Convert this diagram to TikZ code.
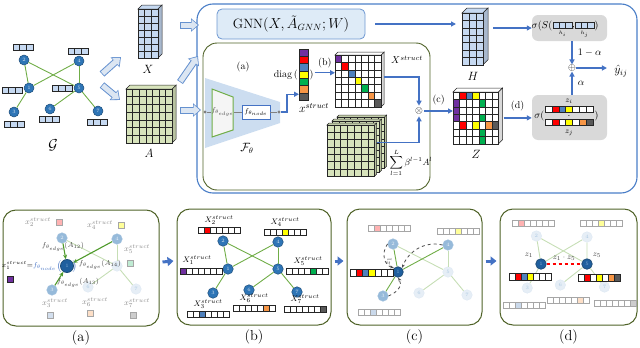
\documentclass[tikz,border=0pt]{standalone}
\usepackage{amsmath,amssymb}
\usetikzlibrary{arrows.meta, positioning, calc}
\definecolor{FrameBlue}{HTML}{4A7EC7}
\definecolor{ArrowBlue}{HTML}{4472C4}
\definecolor{BlockFill}{HTML}{DCE6F2}
\definecolor{BoxGreen}{HTML}{4F6228}
\definecolor{GnnFill}{HTML}{DEEBF7}
\definecolor{FuncBlue}{HTML}{CCDDF0}
\definecolor{PanelGray}{HTML}{D9D9D9}
\definecolor{NodeBlue}{HTML}{2E75B6}
\definecolor{NodeLine}{HTML}{1F4E79}
\definecolor{NodeDark}{HTML}{1F5F9E}
\definecolor{EdgeGreen}{HTML}{70AD47}
\definecolor{EdgeDark}{HTML}{4E9A2A}
\definecolor{MatBlue}{HTML}{C6D9F1}
\definecolor{MatGreen}{HTML}{D8E4BC}
\definecolor{CellPurple}{HTML}{7030A0}
\definecolor{CellRed}{HTML}{FF0000}
\definecolor{CellBlue}{HTML}{4F81BD}
\definecolor{CellYellow}{HTML}{FFFF00}
\definecolor{CellGreen}{HTML}{00B050}
\definecolor{CellOrange}{HTML}{F79646}
\definecolor{CellGray}{HTML}{595959}
\definecolor{LabelGray}{HTML}{8C8C8C}
\tikzset{
    % Box styles
    framebox/.style={rectangle, draw=FrameBlue, line width=1.1pt, rounded corners=16pt},
    greenbox/.style={rectangle, draw=BoxGreen, line width=0.9pt, rounded corners=14pt},
    panelbox/.style={rectangle, draw=BoxGreen, line width=1pt, rounded corners=13pt, minimum height=116pt},
    gnnbox/.style={rectangle, draw=FrameBlue!80, fill=GnnFill, line width=0.8pt, rounded corners=5pt,
        minimum width=148pt, minimum height=30pt, font=\fontsize{13.5}{15}\selectfont},
    graybox/.style={rectangle, fill=PanelGray, rounded corners=6pt, minimum width=75pt},
    nodebox/.style={rectangle, draw=ArrowBlue, line width=0.9pt, fill=white, minimum width=28pt,
        minimum height=14pt, inner sep=1pt, font=\scriptsize},
    % Graph styles
    gnode/.style={circle, draw=NodeLine, fill=NodeBlue, line width=0.5pt, minimum size=10.5pt,
        inner sep=0pt, font=\fontsize{5}{5}\selectfont, text=white!80!NodeBlue},
    darknode/.style={fill=NodeDark, draw=NodeLine, line width=0.8pt, text=NodeBlue!60},
    midnode/.style={fill=NodeBlue!50, draw=NodeBlue!45, text=white!90!NodeBlue},
    faintnode/.style={fill=NodeBlue!12, draw=NodeBlue!15, text=NodeBlue!40},
    gedge/.style={draw=EdgeGreen, line width=0.9pt},
    faintedge/.style={draw=EdgeGreen!40},
    strongedge/.style={draw=EdgeDark, line width=1.1pt, -{Stealth[length=4.5pt,width=4pt]}},
    n1/.style={}, n2/.style={}, n3/.style={}, n4/.style={}, n5/.style={}, n6/.style={}, n7/.style={},
    e21/.style={}, e25/.style={}, e41/.style={}, e45/.style={}, e31/.style={}, e56/.style={}, e57/.style={},
    % Cell styles
    cellline/.style={draw=black!85, line width=0.5pt},
    cubeline/.style={draw=black!85, line width=0.5pt},
    faintcell/.style={draw=black!35},
    % Arrow styles
    bluearrow/.style={draw=ArrowBlue, line width=1.3pt, -{Triangle[length=5pt,width=5pt]}},
    blockarrow/.style={line width=7pt, draw=FrameBlue!85, -{Triangle[length=8pt,width=13pt]},
        postaction={draw=BlockFill, line width=5pt, -{Triangle[length=6pt,width=10pt]},
        shorten >=1.3pt, shorten <=0.8pt}},
    panelarrow/.style={draw=ArrowBlue, line width=3pt, -{Triangle[length=6pt,width=9pt]}},
    dasharrow/.style={draw=black!70, dashed, line width=0.8pt, -{Stealth[length=4pt]}},
    % Text styles
    lbl/.style={inner sep=1pt, font=\footnotesize},
    glbl/.style={inner sep=1pt, font=\footnotesize, text=LabelGray},
    edgelbl/.style={inner sep=1pt, font=\scriptsize, text=black!75},
    matlbl/.style={font=\large},
    paneltitle/.style={font=\Large, inner sep=1pt}
}
% graph with nodes 1..7, prefix #1
\newcommand{\drawgraph}[1]{%
    \foreach \n/\x/\y in {1/0/0, 2/-5/-28, 4/50/-27, 5/50/0, 3/-15/24, 6/21/21, 7/69/23}
        \node[gnode, n\n] (#1\n) at (\x,\y) {\n};
    \foreach \a/\b in {2/1, 2/5, 4/1, 4/5, 3/1, 5/6, 5/7}
        \draw[gedge, e\a\b] (#1\a) -- (#1\b);
}
% one cell of a matrix: #1 matrix, #2 col, #3 row, #4 width, #5 height, #6 fill
\newcommand{\cellat}[6]{%
    \filldraw[cellline, fill=#6] ($(#1.north west)+({(#2-1)*#4},{(#3-1)*#5})$) rectangle ++(#4,#5);%
}
% row of cells: [style] name, top left, width, height, fills
\newcommand{\cellrow}[6][]{%
    \coordinate (#2) at #3;
    \foreach \cl [count=\i from 0] in {#6}
        \draw[cellline, #1, fill=\cl] ($(#2)+(\i*#4,0)$) rectangle ++(#4,#5);
}
% matrix block: name, top left, cols, rows, cell width, cell height, depth, fill
\newcommand{\cuboid}[8]{%
    \node[inner sep=0pt, outer sep=0pt, minimum width={#3*#5}, minimum height={#4*#6}, anchor=north west] (#1) at #2 {};
    \filldraw[cubeline, fill=#8] (#1.north west) -- ++(#7,-#7) -- ++({#3*#5},0) -- (#1.north east) -- cycle;
    \filldraw[cubeline, fill=#8!85!black] (#1.north east) -- ++(#7,-#7) -- ++(0,{#4*#6}) -- (#1.south east) -- cycle;
    \foreach \i in {1,...,#3}{\foreach \j in {1,...,#4}{\cellat{#1}{\i}{\j}{#5}{#6}{#8}}}%
}

\begin{document}
\begin{tikzpicture}[x=1pt, y=-1pt]
\useasboundingbox (0,0) rectangle (640,348);

% frames
\node[framebox, minimum width=440pt, minimum height=189pt] (frame) at (417,98.5) {};
\node[greenbox, minimum width=227pt, minimum height=147pt] (fbox) at (316.5,116.5) {};

% input graph
\begin{scope}[shift={(29,88)}, gnode/.append style={minimum size=10pt}]
    \drawgraph{g}
\end{scope}
\cellrow{gf2}{(13,44)}{6.7}{6}{MatBlue,MatBlue,MatBlue}
\cellrow{gf4}{(68,48)}{6.7}{6}{MatBlue,MatBlue,MatBlue}
\cellrow{gf1}{(2,87)}{6.7}{6}{MatBlue,MatBlue,MatBlue}
\cellrow{gf5}{(52,85)}{6.7}{6}{MatBlue,MatBlue,MatBlue}
\cellrow{gf3}{(4,121)}{6.7}{6}{MatBlue,MatBlue,MatBlue}
\cellrow{gf6}{(39,116)}{6.7}{6}{MatBlue,MatBlue,MatBlue}
\cellrow{gf7}{(87,119)}{6.7}{6}{MatBlue,MatBlue,MatBlue}
\node[font=\Large] (glabel) at (53,145) {$\mathcal{G}$};

% X and A
\cuboid{xm}{(138,9)}{3}{7}{6.7}{7}{4}{MatBlue}
\node[matlbl] (xlabel) at (148,69) {$X$};
\cuboid{am}{(126,89)}{7}{7}{6.6}{7.7}{4}{MatGreen}
\node[matlbl] (alabel) at (149,153) {$A$};

% block arrows
\coordinate (bx0) at (102,74);  \coordinate (bx1) at (121,57);
\coordinate (ba0) at (102,85);  \coordinate (ba1) at (120,100);
\coordinate (xf0) at (180,25);  \coordinate (xf1) at (199,25);
\coordinate (af0) at (180,82);  \coordinate (af1) at (198,56);
\coordinate (fn0) at (180,110); \coordinate (fn1) at (201,110);
\draw[blockarrow] (bx0) -- (bx1);
\draw[blockarrow] (ba0) -- (ba1);
\draw[blockarrow] (xf0) -- (xf1);
\draw[blockarrow] (af0) -- (af1);
\draw[blockarrow] (fn0) -- (fn1);

% GNN branch
\node[gnnbox] (gnn) at (291,24) {GNN$(X,\tilde{A}_{GNN};W)$};
\cuboid{hm}{(462,13)}{3}{7}{7}{7.4}{5}{MatBlue}
\node[matlbl] (hlabel) at (473,76) {$H$};
\draw[bluearrow] ([xshift=10pt]gnn.east) -- ([xshift=-6pt]gnn.east -| hm.west);

% structure function
\node (pa-title) at (243,67) {(a)};
\fill[FuncBlue] (205,78) -- (280,102) -- (280,123) -- (205,148) -- cycle;
\draw[draw=EdgeGreen, line width=1pt, fill=gray!8] (212,89) -- (233,97) -- (233,130) -- (212,137) -- cycle;
\node[minimum width=21pt, inner sep=0pt, font=\scriptsize, text=black!70] (fedge) at (222.5,112) {$f_{\theta_{edge}}$};
\node[nodebox] (fnode) at (256,112) {$f_{\theta_{node}}$};
\node[circle, fill=gray, inner sep=0pt, minimum size=3.2pt] (dotl) at (205,112) {};
\node[circle, fill=gray, inner sep=0pt, minimum size=3.2pt] (dotr) at (279,112) {};
\draw[gray, line width=0.7pt] (dotl) -- (fedge.west);
\draw[gray, line width=0.7pt] (fedge.east) -- (fnode.west);
\draw[gray, line width=0.7pt] (fnode.east) -- (dotr);
\node[font=\large] (flabel) at (247,148) {$\mathcal{F}_\theta$};

% x struct column
\node[inner sep=0pt, minimum width=9pt, minimum height=51.1pt, anchor=north west] (xs) at (299,49) {};
\foreach \cl [count=\k] in {CellPurple,CellRed,CellBlue,CellYellow,CellGreen,CellOrange,CellGray}
    \cellat{xs}{1}{\k}{9}{7.3}{\cl};
\node[anchor=east, inner sep=1pt] (diag) at (xs.west) {diag\,(};
\node[anchor=west, inner sep=1pt] (rpar) at (xs.east) {)};
\node[font=\large] (xslabel) at (314,108) {$x^{struct}$};
\draw[bluearrow] (dotr) -- ++(8,0) |- ([yshift=-19.5pt]xs.west);

% X struct matrix
\cuboid{xsm}{(335,55)}{7}{7}{6.6}{7.4}{3}{white}
\foreach \k/\cl in {1/CellPurple,2/CellRed,3/CellBlue,4/CellYellow,5/CellGreen,6/CellOrange,7/CellGray}
    \cellat{xsm}{\k}{\k}{6.6}{7.4}{\cl};
\node (xsmlabel) at (407,60) {$X^{struct}$};
\draw[bluearrow] ([yshift=2pt]rpar.east) -- ([yshift=2pt]rpar.east -| xsm.west) node[midway, above=1pt] {(b)};

% powers of A
\cuboid{st3}{(337,117)}{7}{7}{6.8}{7.3}{2}{MatGreen}
\cuboid{st2}{(332,121)}{7}{7}{6.8}{7.3}{2}{MatGreen}
\cuboid{st1}{(327,125)}{7}{7}{6.8}{7.3}{2}{MatGreen}
\node (sumlabel) at (411,163) {\small$\displaystyle\sum_{l=1}^{L}\beta^{l-1}A^{l}$};

% combine
\node[circle, inner sep=0pt] (mult) at (419,111) {$\otimes$};
\draw[bluearrow] ([xshift=3pt, yshift=4pt]xsm.east) -| (mult);
\draw[bluearrow] ([xshift=2pt, yshift=8pt]st1.east) -| (mult);

% Z matrix
\cuboid{zm}{(453,92)}{7}{7}{6.5}{7.4}{4}{white}
\foreach \c/\r/\cl in {2/1/CellRed, 3/1/CellBlue, 4/1/CellYellow, 1/2/CellPurple, 5/2/CellGreen,
    1/3/CellPurple, 1/4/CellPurple, 5/4/CellGreen, 2/5/CellRed, 4/5/CellYellow, 6/5/CellOrange,
    7/5/CellGray, 5/6/CellGreen, 5/7/CellGreen}
    \cellat{zm}{\c}{\r}{6.5}{7.4}{\cl};
\node[matlbl] (zlabel) at (476,154) {$Z$};
\draw[bluearrow] (mult) -- (mult -| zm.west) node[midway, above=2pt] {(c)};

% scoring boxes
\node[graybox, minimum height=26pt] (sbox) at (569.5,28) {};
\draw[bluearrow] ([xshift=10pt]hm.east |- sbox.west) -- (sbox.west);
\cellrow{hi}{(553,22)}{6.3}{6}{MatBlue,MatBlue,MatBlue}
\cellrow{hj}{(575,22)}{6.3}{6}{MatBlue,MatBlue,MatBlue}
\node[anchor=east, inner sep=0.5pt] (sig1) at (553,25.5) {$\sigma(S($};
\node[inner sep=0pt] (comma) at (573.5,28) {,};
\node[anchor=west, inner sep=0.5pt] (sig1r) at (594,25.5) {$)$};
\node[font=\tiny, inner sep=0pt] (hilabel) at (562.5,34) {$h_i$};
\node[font=\tiny, inner sep=0pt] (hjlabel) at (584.5,34) {$h_j$};

\node[graybox, minimum height=45pt] (zbox) at (569.5,117.5) {};
\draw[bluearrow] ([xshift=5pt]zm.east) -- (zm.east -| zbox.west) node[midway, above=3pt] {(d)};
\node[font=\footnotesize, inner sep=0pt] (zilabel) at (569,101) {$z_i$};
\cellrow{zi}{(545,106)}{6.9}{6.5}{white,CellRed,CellBlue,CellYellow,white,white,white}
\node[inner sep=0pt] (zdot) at (569,116) {$\cdot$};
\cellrow{zj}{(545,119)}{6.9}{6.5}{white,CellRed,white,CellYellow,white,CellOrange,CellGray}
\node[anchor=east, inner sep=0.5pt] (sig2) at (545,116) {$\sigma($};
\node[anchor=west, inner sep=0.5pt] (sig2r) at (594,116) {$)$};
\node[font=\footnotesize, inner sep=0pt] (zjlabel) at (569,133) {$z_j$};

% fusion
\node[inner sep=0pt] (plus) at (572,68) {$\oplus$};
\node[font=\large] (yhat) at (621,71) {$\hat{y}_{ij}$};
\draw[bluearrow] (plus |- sbox.south) -- (plus) node[midway, right=2pt] {$1-\alpha$};
\draw[bluearrow] (plus |- zbox.north) -- (plus) node[midway, right=2pt] {$\alpha$};
\draw[bluearrow] (plus) -- ([xshift=-4pt]plus -| yhat.west);

% ---------------- bottom panels ----------------
\node[panelbox, minimum width=156pt] (pa) at (81,268) {};
\node[panelbox, minimum width=154pt] (pb) at (254,267) {};
\node[panelbox, minimum width=135pt] (pc) at (414.5,267) {};
\node[panelbox, minimum width=137pt] (pd) at (568.5,267) {};
\node[paneltitle, below=3pt of pa] (la) {(a)};
\node[paneltitle, below=3pt of pb] (lb) {(b)};
\node[paneltitle, below=3pt of pc] (lc) {(c)};
\node[paneltitle, below=3pt of pd] (ld) {(d)};
\draw[panelarrow] ([xshift=3pt, yshift=6pt]pa.east) -- ([xshift=-3pt, yshift=6pt]pb.west);
\draw[panelarrow] ([xshift=3pt, yshift=6pt]pb.east) -- ([xshift=-3pt, yshift=6pt]pc.west);
\draw[panelarrow] ([xshift=3pt, yshift=6pt]pc.east) -- ([xshift=-3pt, yshift=6pt]pd.west);

% panel (a)
\begin{scope}[shift={(67,266)}, n1/.style={darknode, minimum size=13pt}, n2/.style={midnode},
    n3/.style={midnode}, n4/.style={midnode}, n5/.style={faintnode}, n6/.style={faintnode},
    n7/.style={faintnode}, e21/.style={strongedge}, e41/.style={strongedge}, e31/.style={strongedge},
    e25/.style={faintedge}, e45/.style={faintedge}, e56/.style={faintedge}, e57/.style={faintedge}]
    \drawgraph{pa}
\end{scope}
\node[glbl] (ax2) at (38,222) {$x_2^{struct}$};
\cellrow[faintcell]{asq2}{(56,219)}{6}{6}{CellRed!30}
\node[glbl] (ax4) at (100,225) {$x_4^{struct}$};
\cellrow[faintcell]{asq4}{(118,222)}{6}{6}{CellYellow!40}
\node[glbl] (ax5) at (137,249) {$x_5^{struct}$};
\cellrow[faintcell]{asq5}{(127,260)}{6}{6}{CellGreen!25}
\node[glbl] (ax3) at (55,303) {$x_3^{struct}$};
\cellrow[faintcell]{asq3}{(47,312)}{6}{6}{CellBlue!25}
\node[glbl] (ax6) at (95,302) {$x_6^{struct}$};
\cellrow[faintcell]{asq6}{(87,310)}{6}{6}{CellOrange!30}
\node[glbl] (ax7) at (137,303) {$x_7^{struct}$};
\cellrow[faintcell]{asq7}{(130,312)}{6}{6}{CellGray!30}
\node[text=ArrowBlue, font=\large, inner sep=0pt] (alp) at (59.5,266) {$($};
\node[text=ArrowBlue, font=\large, inner sep=0pt] (arp) at (74.5,266) {$)$};
\node[anchor=east, inner sep=0.5pt, font=\scriptsize] (ax1) at (alp.west) {$x_1^{struct}{=}\textcolor{ArrowBlue}{f_{\theta_{node}}}$};
\cellrow{asq1}{(7,276)}{6}{6}{CellPurple}
\node[edgelbl] (a12) at (63,247) {$f_{\theta_{edge}}(A_{12})$};
\node[edgelbl] (a14) at (100,265) {$f_{\theta_{edge}}(A_{14})$};
\node[edgelbl] (a13) at (78,283) {$f_{\theta_{edge}}(A_{13})$};

% panel (b)
\begin{scope}[shift={(228,269)}]
    \drawgraph{pb}
\end{scope}
\cellrow{bx2}{(198,227)}{6}{6.5}{white,CellRed,white,white,white,white,white}
\cellrow{bx4}{(264,229)}{6}{6.5}{white,white,white,CellYellow,white,white,white}
\cellrow{bx1}{(180,268)}{6}{6.5}{CellPurple,white,white,white,white,white,white}
\cellrow{bx5}{(286,268)}{6}{6.5}{white,white,white,white,CellGreen,white,white}
\cellrow{bx3}{(187,311)}{6}{6.5}{white,white,CellBlue,white,white,white,white}
\cellrow{bx6}{(233,305)}{6}{6.5}{white,white,white,white,white,CellOrange,white}
\cellrow{bx7}{(284,306)}{6}{6.5}{white,white,white,white,white,white,CellGray}
\node[lbl] (bl2) at (219,220) {$X_2^{struct}$};
\node[lbl] (bl4) at (285,222) {$X_4^{struct}$};
\node[lbl] (bl1) at (197,260) {$X_1^{struct}$};
\node[lbl] (bl5) at (308,261) {$X_5^{struct}$};
\node[lbl] (bl3) at (208,304) {$X_3^{struct}$};
\node[lbl] (bl6) at (254,298) {$X_6^{struct}$};
\node[lbl] (bl7) at (305,299) {$X_7^{struct}$};

% panel (c)
\begin{scope}[shift={(398,272)}, n1/.style={darknode}, n2/.style={midnode}, n3/.style={midnode},
    n4/.style={midnode}, n5/.style={faintnode}, n6/.style={faintnode}, n7/.style={faintnode},
    e25/.style={faintedge}, e45/.style={faintedge}, e56/.style={faintedge}, e57/.style={faintedge}]
    \drawgraph{pc}
\end{scope}
\cellrow{cz1}{(350,269)}{6.2}{7}{white,CellRed,CellBlue,CellYellow,white,white,white}
\cellrow[faintcell]{cx2}{(368,225)}{6}{6.5}{white,CellRed!30,white,white,white,white,white}
\cellrow[faintcell]{cx4}{(437,228)}{6}{6.5}{white,white,white,CellYellow!40,white,white,white}
\cellrow[faintcell]{cx3}{(358,309)}{6}{6.5}{white,white,CellBlue!30,white,white,white,white}
\draw[dasharrow] (pc2.west) .. controls (381,253) and (384,265) .. (pc1.north west);
\draw[dasharrow] (pc4.west) .. controls (426,241) and (409,250) .. (pc1.north east);
\draw[dasharrow] (pc3.east) .. controls (398,292) and (403,285) .. (pc1.south);
\node[lbl, rotate=90, text=black!70] (cz1label) at (389,261) {$z_1$};

% panel (d)
\begin{scope}[shift={(541,264)}, xscale=0.92, n1/.style={darknode}, n5/.style={darknode},
    n2/.style={faintnode}, n3/.style={faintnode}, n4/.style={faintnode}, n6/.style={faintnode},
    n7/.style={faintnode}, e21/.style={faintedge}, e25/.style={faintedge}, e41/.style={faintedge},
    e45/.style={faintedge}, e31/.style={faintedge}, e56/.style={faintedge}, e57/.style={faintedge}]
    \drawgraph{pd}
\end{scope}
\draw[draw=red, dashed, line width=1.2pt] (pd1) -- (pd5) node[midway, above=2pt, lbl, text=black!75] {$z_1\cdot z_5$};
\node[lbl, text=black!75] (dz1) at (529,255) {$z_1$};
\node[lbl, text=black!75] (dz5) at (597,255) {$z_5$};
\cellrow{dz1v}{(509,273)}{6}{7}{white,CellRed,CellBlue,CellYellow,white,white,white}
\cellrow{dz5v}{(578,274)}{6}{7}{white,CellRed,white,CellYellow,white,CellOrange,CellGray}
\cellrow[faintcell]{dx2}{(512,220)}{6}{6.5}{white,CellRed!30,white,white,white,white,white}
\cellrow[faintcell]{dx4}{(580,220)}{6}{6.5}{white,white,white,CellYellow!40,white,white,white}
\cellrow[faintcell]{dx3}{(503,302)}{6}{6.5}{white,white,CellBlue!30,white,white,white,white}
\cellrow[faintcell]{dx6}{(547,297)}{6}{6.5}{white,white,white,white,white,CellOrange!30,white}
\cellrow[faintcell]{dx7}{(594,300)}{6}{6.5}{white,white,white,white,white,white,CellGray!30}
\end{tikzpicture}
\end{document}
